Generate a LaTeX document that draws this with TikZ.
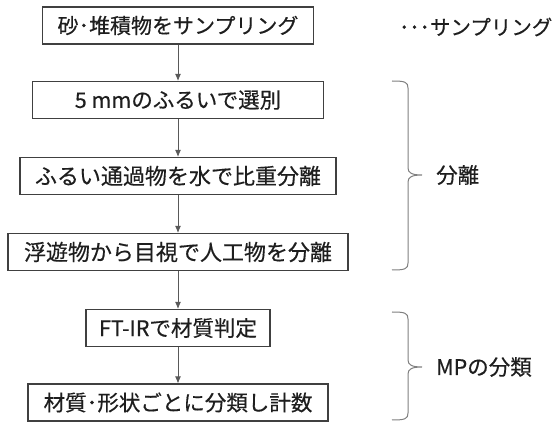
\documentclass[tikz,border=0pt]{standalone}
\usepackage{fontspec}
\setmainfont{Noto Sans CJK JP}[FakeBold=0.4]
\usetikzlibrary{arrows.meta}

\definecolor{textblack}{HTML}{1E1E1E}
\definecolor{boxgray}{HTML}{404040}
\definecolor{linegray}{HTML}{595959}
\definecolor{bracegray}{HTML}{808080}

\tikzset{
  stepbox/.style={draw=boxgray, line width=1.1pt, minimum height=37pt, inner sep=0pt,
    text=textblack, font=\fontsize{21.5}{25}\selectfont},
  bigtext/.style={font=\fontsize{22}{26}\selectfont},
  flow/.style={draw=linegray, line width=0.9pt, -{Latex[length=7pt,width=6pt]}},
  bracket/.style={draw=bracegray, line width=1pt},
  grouplabel/.style={text=textblack, inner sep=0pt, font=\fontsize{21.5}{25}\selectfont}
}

\begin{document}
\begin{tikzpicture}[x=1pt, y=-1pt]
    \useasboundingbox (0,0) rectangle (555,422);

    % Steps of the procedure
    \node[stepbox, minimum width=271pt, font=\fontsize{21}{25}\selectfont] (sample) at (178,25.5) {砂･堆積物をサンプリング};
    \node[stepbox, minimum width=291pt] (sieve) at (178,100) {5 mmのふるいで選別};
    \node[stepbox, bigtext, minimum width=316pt] (density) at (178,176) {ふるい通過物を水で比重分離};
    \node[stepbox, bigtext, minimum width=340pt] (picking) at (178,252) {浮遊物から目視で人工物を分離};
    \node[stepbox, minimum width=184pt] (ftir) at (178,328) {FT-IRで材質判定};
    \node[stepbox, minimum width=300pt] (count) at (178,402.5) {材質･形状ごとに分類し計数};

    % Arrows between the steps
    \draw[flow] (sample) -- (sieve);
    \draw[flow] (sieve) -- (density);
    \draw[flow] (density) -- (picking);
    \draw[flow] (picking) -- (ftir);
    \draw[flow] (ftir) -- (count);

    % Braces grouping the steps
    \draw[bracket] (392,81) .. controls (405,81) and (408,82) .. (408,88) -- (408,168)
        .. controls (408,173) and (412,175) .. (422,175)
        .. controls (412,175) and (408,177) .. (408,182) -- (408,263)
        .. controls (408,269) and (405,270) .. (392,270);
    \draw[bracket] (392,312) .. controls (405,312) and (408,313) .. (408,319) -- (408,360)
        .. controls (408,365) and (412,367) .. (422,367)
        .. controls (412,367) and (408,369) .. (408,374) -- (408,413)
        .. controls (408,419) and (405,420) .. (392,420);

    % Group labels
    \node[grouplabel, anchor=west, font=\fontsize{20.5}{24}\selectfont] (samplenote) at (399,27) {･･･サンプリング};
    \node[grouplabel, anchor=west] (seplabel) at (436,175) {分離};
    \node[grouplabel, anchor=west] (mplabel) at (436,367) {MPの分類};
\end{tikzpicture}
\end{document}
